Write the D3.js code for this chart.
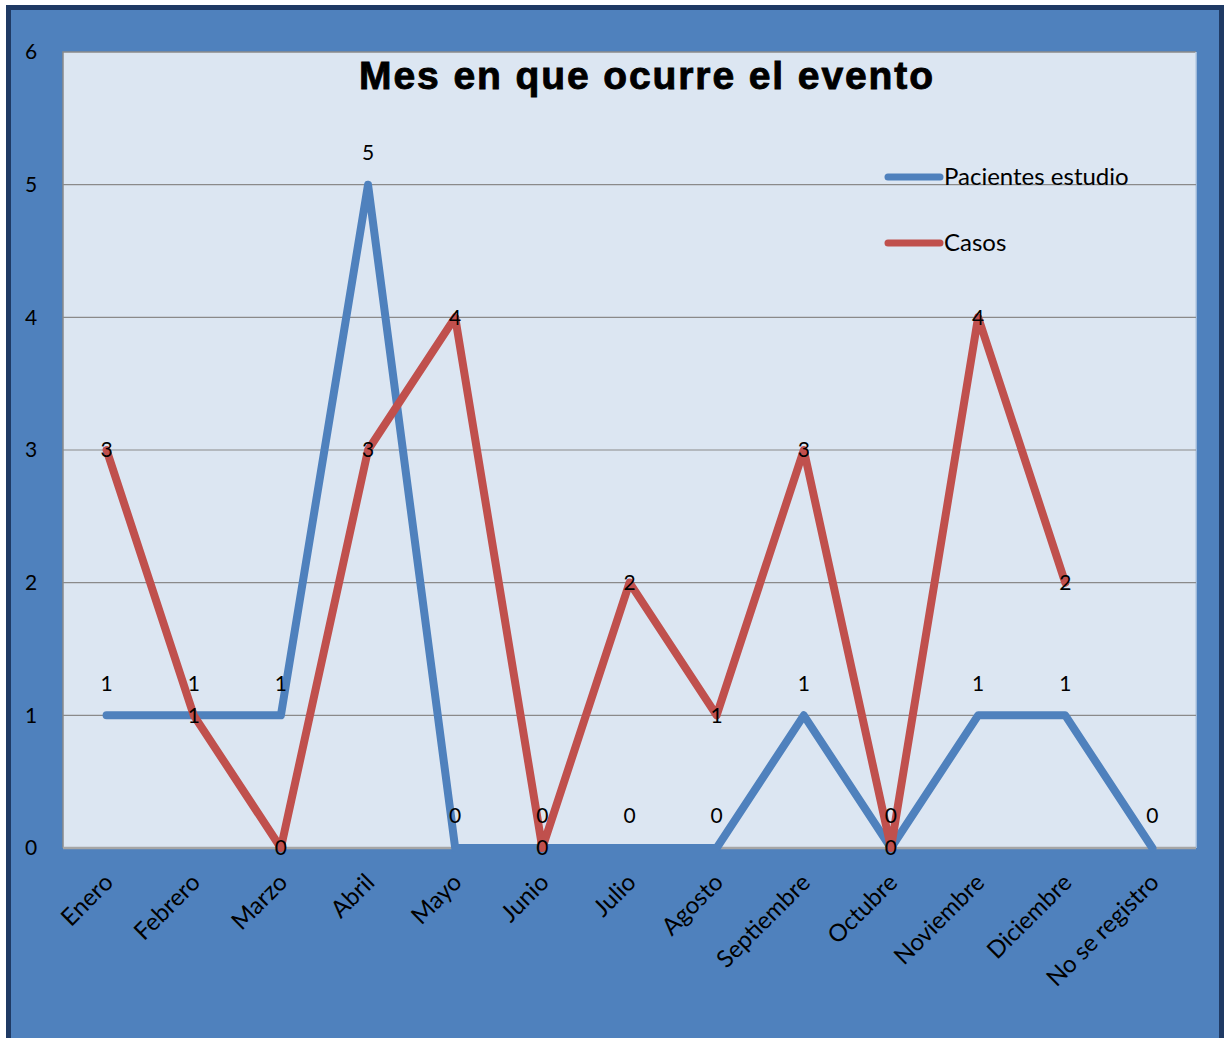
<!DOCTYPE html>
<html>
<head>
<meta charset="utf-8">
<script src="https://cdn.jsdelivr.net/npm/d3@7"></script>
<style>
  html, body { margin: 0; padding: 0; background: #ffffff; }
  svg { display: block; }
  text { font-family: Lato, "Open Sans", sans-serif; fill: #000; }
</style>
</head>
<body>
<div id="chart"></div>
<script>
// Monthly counts: study patients vs. cases
const months = ["Enero", "Febrero", "Marzo", "Abril", "Mayo", "Junio", "Julio",
  "Agosto", "Septiembre", "Octubre", "Noviembre", "Diciembre", "No se registro"];
const pacientes = [1, 1, 1, 5, 0, 0, 0, 0, 1, 0, 1, 1, 0];
const casos = [3, 1, 0, 3, 4, 0, 2, 1, 3, 0, 4, 2, null];
const yTicks = [0, 1, 2, 3, 4, 5, 6];
const seriesNames = ["Pacientes estudio", "Casos"];
const title = "Mes en que ocurre el evento";

const W = 1224, H = 1038;
const plot = { left: 63, top: 52, right: 1196, bottom: 848 };
const colors = { frame: "#4F81BD", frameEdge: "#1F3A64", plot: "#DCE6F2",
  grid: "#8A8A8A", blue: "#4F81BD", red: "#C0504D" };

const svg = d3.select("#chart").append("svg").attr("width", W).attr("height", H);

// outer frame
svg.append("rect").attr("x", 6).attr("y", 5).attr("width", 1218).attr("height", H)
  .attr("fill", colors.frameEdge);
svg.append("rect").attr("x", 11).attr("y", 10).attr("width", 1208).attr("height", H)
  .attr("fill", colors.frame);

// plot area
svg.append("rect").attr("x", plot.left).attr("y", plot.top)
  .attr("width", plot.right - plot.left).attr("height", plot.bottom - plot.top)
  .attr("fill", colors.plot);
svg.append("path")
  .attr("d", `M${plot.left},${plot.bottom}V${plot.top}H${plot.right}`)
  .attr("fill", "none").attr("stroke", colors.grid).attr("stroke-width", 1.5);
svg.append("line").attr("x1", plot.right).attr("x2", plot.right)
  .attr("y1", plot.top).attr("y2", plot.bottom)
  .attr("stroke", "#B8CCE4").attr("stroke-width", 1.5);

const x = d3.scaleBand().domain(months).range([plot.left, plot.right]);
const cx = m => x(m) + x.bandwidth() / 2;
const y = d3.scaleLinear().domain([0, 6]).range([plot.bottom, plot.top]);

// gridlines
svg.append("g").selectAll("line").data(yTicks.filter(t => t > 0 && t < 6)).join("line")
  .attr("x1", plot.left).attr("x2", plot.right)
  .attr("y1", d => y(d)).attr("y2", d => y(d))
  .attr("stroke", colors.grid).attr("stroke-width", 1.2);
svg.append("line").attr("x1", plot.left).attr("x2", plot.right)
  .attr("y1", y(0)).attr("y2", y(0))
  .attr("stroke", "#A6A6A6").attr("stroke-width", 2.5);

// y axis
const yAxis = svg.append("g").attr("transform", `translate(${plot.left},0)`)
  .call(d3.axisLeft(y).tickValues(yTicks).tickFormat(d3.format("d")).tickSize(0).tickPadding(0));
yAxis.select(".domain").remove();
yAxis.selectAll("text").attr("x", -32).attr("text-anchor", "middle")
  .style("font-size", "21px").attr("fill", "#000");

// x axis
const xAxis = svg.append("g").attr("transform", `translate(0,${plot.bottom})`)
  .call(d3.axisBottom(x).tickSize(0).tickPadding(0));
xAxis.select(".domain").remove();
xAxis.selectAll("text")
  .attr("text-anchor", "end").attr("dy", "0.35em")
  .attr("transform", "translate(2,30) rotate(-45)")
  .style("font-size", "24px").attr("fill", "#000");

// series lines
const line = d3.line().defined(d => d.v !== null).x(d => cx(d.m)).y(d => y(d.v));
const pData = months.map((m, i) => ({ m, v: pacientes[i] }));
const cData = months.map((m, i) => ({ m, v: casos[i] }));

svg.append("path").datum(pData).attr("d", line)
  .attr("fill", "none").attr("stroke", colors.blue).attr("stroke-width", 8)
  .attr("stroke-linejoin", "round").attr("stroke-linecap", "round");
svg.append("path").datum(cData).attr("d", line)
  .attr("fill", "none").attr("stroke", colors.red).attr("stroke-width", 8)
  .attr("stroke-linejoin", "round").attr("stroke-linecap", "round");

// value labels: patients above the point, cases centred on it
svg.append("g").selectAll("text").data(pData).join("text")
  .attr("x", d => cx(d.m)).attr("y", d => y(d.v) - 32)
  .attr("text-anchor", "middle").attr("dy", "0.35em")
  .style("font-size", "21px").text(d => d.v);
svg.append("g").selectAll("text").data(cData.filter(d => d.v !== null)).join("text")
  .attr("x", d => cx(d.m)).attr("y", d => y(d.v))
  .attr("text-anchor", "middle").attr("dy", "0.35em")
  .style("font-size", "21px").text(d => d.v);

// title
svg.append("text").attr("x", 647).attr("y", 89).attr("text-anchor", "middle")
  .style("font-family", "'Liberation Sans', Arial, sans-serif")
  .style("font-weight", "bold").style("font-size", "39px")
  .style("letter-spacing", "1.9px")
  .attr("stroke", "#000").attr("stroke-width", 0.9)
  .text(title);

// legend
const legend = svg.append("g");
[colors.blue, colors.red].forEach((c, i) => {
  const ly = 177 + i * 66;
  legend.append("line").attr("x1", 888).attr("x2", 940).attr("y1", ly).attr("y2", ly)
    .attr("stroke", c).attr("stroke-width", 7).attr("stroke-linecap", "round");
  legend.append("text").attr("x", 944).attr("y", ly).attr("dy", "0.35em")
    .style("font-size", "24px").attr("fill", "#222").text(seriesNames[i]);
});
</script>
</body>
</html>
